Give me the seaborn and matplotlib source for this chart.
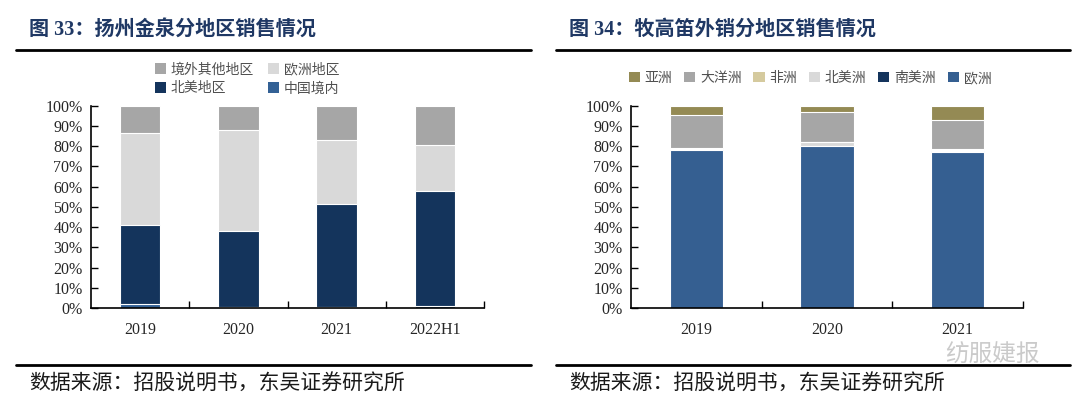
import matplotlib
matplotlib.use("Agg")
import matplotlib.pyplot as plt
from matplotlib.patches import Patch
from matplotlib.lines import Line2D
import seaborn as sns
import pandas as pd
import numpy as np

# Data (shares in %)
# -----------------------------------------------------------------------
years_left = ["2019", "2020", "2021", "2022H1"]
china = [2.0, 0.3, 0.5, 1.0]
north_america = [39.0, 37.8, 51.0, 57.0]
europe = [45.3, 49.9, 31.3, 22.6]
other = [13.7, 12.0, 17.2, 19.4]

years_right = ["2019", "2020", "2021"]
r_europe = [77.9, 80.0, 77.2]
r_south_america = [0.2, 0.1, 0.2]
r_north_america = [0.4, 1.8, 0.8]
r_africa = [0.4, 0.1, 0.5]
r_oceania = [16.6, 14.8, 14.4]
r_asia = [4.5, 3.2, 6.9]

NAVY = "#1F3864"
CJK = ["Noto Sans CJK SC", "DejaVu Sans"]
SERIF = ["Liberation Serif", "Noto Sans CJK SC"]

sns.set_theme(style="white")
plt.rcParams["font.family"] = CJK


def stacked_bars(ax, cats, layers):
    """layers: list of (label, values, color) from bottom to top."""
    cum = np.zeros(len(cats))
    tops = []
    for label, vals, color in layers:
        cum = cum + np.array(vals)
        tops.append((label, cum.copy(), color))
    # draw the tallest cumulative bar first, shorter ones on top of it
    for label, top, color in reversed(tops):
        df = pd.DataFrame({"cat": cats, "val": top})
        sns.barplot(data=df, x="cat", y="val", color=color, width=0.41,
                    edgecolor="white", linewidth=0.8, saturation=1, ax=ax)

    ax.set_ylim(0, 100)
    ax.set_xlim(-0.5, len(cats) - 0.5)
    ax.set_yticks(range(0, 101, 10))
    ax.set_yticklabels([f"{v}%" for v in range(0, 101, 10)],
                       family=SERIF, fontsize=11.5)
    ax.set_xticks(range(len(cats)))
    ax.set_xticklabels(cats, family=SERIF, fontsize=11.5)
    ax.set_xticks(np.arange(0.5, len(cats), 1.0), minor=True)
    ax.tick_params(axis="y", direction="in", length=5, width=1, left=True,
                   color="black", pad=6)
    ax.tick_params(axis="x", which="major", length=0, pad=10)
    ax.tick_params(axis="x", which="minor", direction="in", length=5,
                   width=1, bottom=True, color="black")
    ax.set_xlabel("")
    ax.set_ylabel("")
    sns.despine(ax=ax)
    for s in ["left", "bottom"]:
        ax.spines[s].set_color("black")
        ax.spines[s].set_linewidth(1.2)


fig = plt.figure(figsize=(10.8, 4.07), dpi=100)
W, H = 1080, 407


def px_axes(x0, x1, y_top, y_bot):
    return fig.add_axes([x0 / W, 1 - y_bot / H, (x1 - x0) / W, (y_bot - y_top) / H])


# Left chart
ax1 = px_axes(91, 484, 105.7, 308)
left_layers = [("中国境内", china, "#336195"),
               ("北美地区", north_america, "#14345C"),
               ("欧洲地区", europe, "#D9D9D9"),
               ("境外其他地区", other, "#A6A6A6")]
stacked_bars(ax1, years_left, left_layers)
col = dict((l, c) for l, v, c in left_layers)
order = ["境外其他地区", "北美地区", "欧洲地区", "中国境内"]
handles = [Patch(facecolor=col[l], edgecolor="none", label=l) for l in order]
fig.legend(handles=handles, ncol=2, loc="center", bbox_to_anchor=(247 / W, 1 - 79 / H),
           frameon=False, fontsize=10, handlelength=0.8, handleheight=0.8,
           handletextpad=0.35, columnspacing=1.0, labelspacing=0.35,
           labelcolor="#505050")

# Right chart
ax2 = px_axes(631, 1023, 105.7, 308)
right_layers = [("欧洲", r_europe, "#355F91"),
                ("南美洲", r_south_america, "#14345C"),
                ("北美洲", r_north_america, "#D9D9D9"),
                ("非洲", r_africa, "#D5CA9E"),
                ("大洋洲", r_oceania, "#A6A6A6"),
                ("亚洲", r_asia, "#948A54")]
stacked_bars(ax2, years_right, right_layers)
handles = [Patch(facecolor=c, edgecolor="none", label=l)
           for l, v, c in reversed(right_layers)]
fig.legend(handles=handles, ncol=6, loc="center", bbox_to_anchor=(810 / W, 1 - 78 / H),
           frameon=False, fontsize=10, handlelength=0.8, handleheight=0.8,
           handletextpad=0.35, columnspacing=0.85, labelcolor="#505050")

# Titles, rules and sources
for x0, x1, title in [(16, 531, "图 33：扬州金泉分地区销售情况"),
                      (556, 1070, "图 34：牧高笛外销分地区销售情况")]:
    fig.text((x0 + 13) / W, 1 - 30 / H, title, family=SERIF, fontsize=14.5,
             fontweight="bold", color=NAVY, va="center", ha="left")
    for y in (49.5, 365):
        fig.add_artist(Line2D([x0 / W, x1 / W], [1 - y / H, 1 - y / H],
                              color="black", linewidth=2))
    fig.text((x0 + 13) / W, 1 - 384 / H, "数据来源：招股说明书，东吴证券研究所",
             fontsize=15, color="#1a1a1a", va="center", ha="left")

# Watermark
fig.text(945 / W, 1 - 355 / H, "纺服婕报", fontsize=17, color="#bdbdbd",
         alpha=0.8, va="center", ha="left")

fig.savefig("out.png", dpi=100)
